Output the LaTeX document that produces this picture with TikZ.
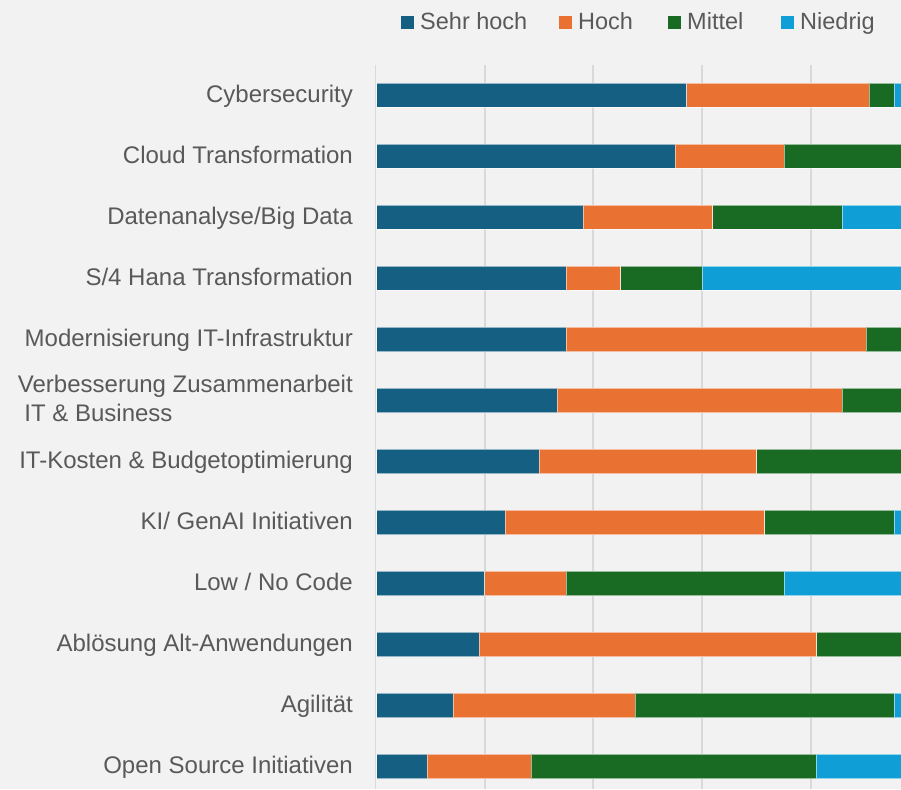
\documentclass[tikz,border=0pt]{standalone}
\usepackage{fontspec}
\setmainfont{Liberation Sans}
\definecolor{bg}{HTML}{F2F2F2}
\definecolor{txt}{HTML}{595959}
\definecolor{grid}{HTML}{D9D9D9}
\definecolor{cA}{HTML}{156082}
\definecolor{cB}{HTML}{E97132}
\definecolor{cC}{HTML}{196B24}
\definecolor{cD}{HTML}{0F9ED5}
\begin{document}
\begin{tikzpicture}[x=1pt,y=-1pt,
  lbl/.style={font=\fontsize{24}{29.4}\selectfont, text=txt, inner sep=0pt},
  lgd/.style={font=\fontsize{23.5}{29.4}\selectfont, text=txt, inner sep=0pt},
  seg/.style={draw=white, draw opacity=0.55, line width=0.6pt},
  gline/.style={draw=grid, line width=1.6pt}]
\useasboundingbox (0,0) rectangle (901,789);
\fill[bg] (0,0) rectangle (901,789);
% legend
\fill[cA] (401,16) rectangle (414,29);
\node[lgd, anchor=base west] (lg1) at (420,29.3) {Sehr hoch};
\fill[cB] (559,16) rectangle (572,29);
\node[lgd, anchor=base west] (lg2) at (578,29.3) {Hoch};
\fill[cC] (668,16) rectangle (681,29);
\node[lgd, anchor=base west] (lg3) at (687,29.3) {Mittel};
\fill[cD] (781,16) rectangle (794,29);
\node[lgd, anchor=base west] (lg4) at (800,29.3) {Niedrig};
\begin{scope}
\clip (0,0) rectangle (901,789);
% gridlines
\foreach \gx in {375.5,484.8,593.2,701.9,810.8} {
  \draw[gline] (\gx,65) -- (\gx,789);
}
% bars
\foreach \i/\a/\b/\c in {0/686.6/868.8/893.9, 1/675.1/784.2/930, 2/583/712.7/842.1,
  3/566.1/620.6/701.9, 4/566.1/865.8/930, 5/556.9/842.4/930, 6/539/756.7/930,
  7/505.1/764.5/893.9, 8/484.5/566.4/784.2, 9/479/816.7/930, 10/453/634.8/893.9,
  11/426.9/531.2/816.3} {
  \pgfmathsetmacro{\yt}{95.2+61.03*\i-12.2}
  \pgfmathsetmacro{\yb}{95.2+61.03*\i+12.2}
  \path[seg, fill=cA] (376.6,\yt) rectangle (\a,\yb);
  \path[seg, fill=cB] (\a,\yt) rectangle (\b,\yb);
  \path[seg, fill=cC] (\b,\yt) rectangle (\c,\yb);
  \path[seg, fill=cD] (\c,\yt) rectangle (940,\yb);
}
\end{scope}
% category labels
\node[lbl, anchor=base east] (l1) at (353,102.5) {Cybersecurity};
\node[lbl, anchor=base east] (l2) at (353,163.5) {Cloud Transformation};
\node[lbl, anchor=base east] (l3) at (353,224.5) {Datenanalyse/Big Data};
\node[lbl, anchor=base east] (l4) at (353,285.6) {S/4 Hana Transformation};
\node[lbl, anchor=base east] (l5) at (353,346.6) {Modernisierung IT-Infrastruktur};
\node[lbl, anchor=base east] (l6) at (353,392.3) {Verbesserung Zusammenarbeit};
\node[lbl, anchor=base west] (l6b) at ([xshift=6.5pt,yshift=-29.4pt]l6.base west) {IT \& Business};
\node[lbl, anchor=base east] (l7) at (353,468.7) {IT-Kosten \& Budgetoptimierung};
\node[lbl, anchor=base east] (l8) at (353,529.7) {KI/ GenAI Initiativen};
\node[lbl, anchor=base east] (l9) at (353,590.8) {Low / No Code};
\node[lbl, anchor=base east] (l10) at (353,651.8) {Ablösung Alt-Anwendungen};
\node[lbl, anchor=base east] (l11) at (353,712.8) {Agilität};
\node[lbl, anchor=base east] (l12) at (353,773.8) {Open Source Initiativen};
\end{tikzpicture}
\end{document}
